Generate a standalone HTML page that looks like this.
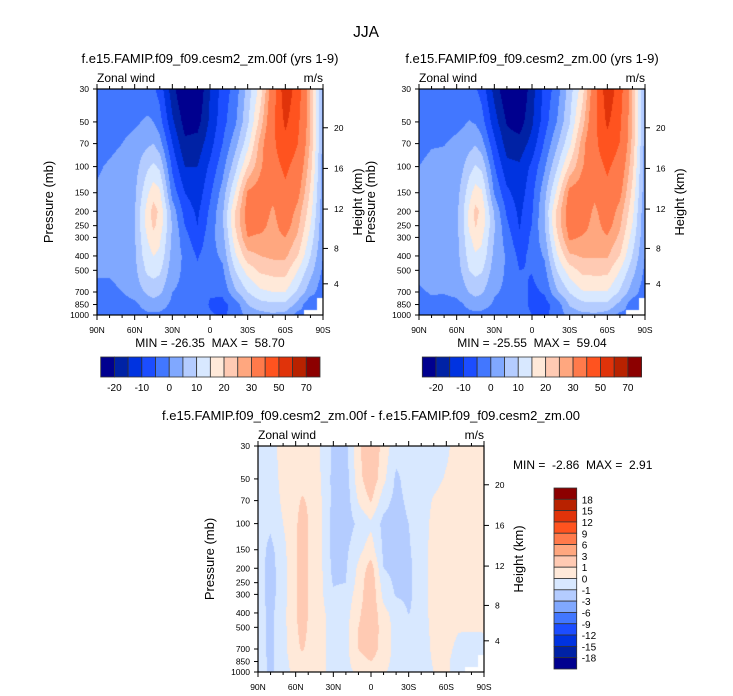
<!DOCTYPE html>
<html><head><meta charset="utf-8">
<style>
html,body{margin:0;padding:0;background:#fff;}
#wrap{position:relative;width:733px;height:696px;overflow:hidden;font-family:"Liberation Sans",sans-serif;}
canvas{position:absolute;}
svg{position:absolute;left:0;top:0;}
</style></head><body>
<div id="wrap">
<canvas id="c1" width="226" height="226" style="left:97px;top:89px"></canvas>
<canvas id="c2" width="226" height="226" style="left:419px;top:89px"></canvas>
<canvas id="c3" width="226" height="226" style="left:258px;top:446px"></canvas>
<svg id="ov" width="733" height="696"></svg>
</div>
<script>
// ---- data ----
const lats=[90,80,70,60,55,50,45,40,30,20,10,0,-10,-20,-30,-40,-50,-60,-70,-80,-90];
const plevs=[30,50,70,100,150,200,250,300,400,500,700,850,1000];
const N=NaN;
const u00f=[
[-3,-3,-2,-0.5,0.5,1,1,1,0.5,0.5,-1,-2,-4],
[-3,-2,-1,0.5,1,1.5,1.5,1.5,1,0.5,-1,-2,-3],
[-3,-2,0,1.5,2,2.5,2.5,2.5,2,1.5,0,-2,-2],
[-4,-1,2,3,4,4.5,4.5,4.5,4,3.5,2,-1,-2],
[-4,0,3,6,9,11,11,10,9,7.5,4,0.5,-1.5],
[-4,1,4,9,14,17,17,15,13,11,6,2,-1],
[-4,0,5,11,18,22,21,18,15,12,7,3,-1],
[-7,-3,2,9,16,19,18,16,14,11,6,2,-1],
[-18,-14,-10,-6,-2,3,4.5,4,3,2,0,-1,-2],
[-26,-22,-19,-15,-10,-7,-5,-3,-1,-1,-1,-1,-2],
[-25,-22,-18,-15,-13,-11,-10,-8.5,-5.5,-4,-2,-1.5,-2.5],
[-15,-14,-12,-9,-6,-4,-3,-2,-2,-3,-4.5,-5.5,-4.5],
[-8,-7,-5,-2,2,4,4,3,1,-1,-4,-6.5,-5.5],
[-3,-1,3,8,15,20,20,18,14,10,4,-3,-4],
[7,9,13,20,31,33,32,30,23,17,10,5,2],
[17,22,27,29,33,34,32,29,25,21,14,8,3],
[35,37,38,36,32,29,28,28,26,22,15,9,4],
[57,52,47,42,38,35,33,30,26,22,15,9,3],
[45,42,40,36,32,28,26,24,20,15,9,3,-2],
[25,25,24,22,19,17,15,13,10,7,2,-4,N],
[3,3,3,2,2,1,1,1,0,-1,-3,N,N]];
const udiff=[
[-0.5,-0.5,-0.5,-0.5,-0.5,-0.5,-0.5,-0.5,-0.5,-0.5,-0.5,-0.5,-0.5],
[-0.4,-0.5,-0.6,-0.8,-1.3,-1.4,-1.4,-1.4,-1.3,-1.3,-1.3,-1.2,-1.2],
[0.4,0.3,0.2,0,-0.3,-0.4,-0.4,-0.4,-0.3,-0.3,-0.3,-0.4,-0.5],
[0.5,0.6,0.7,0.8,0.9,0.9,0.9,0.9,0.9,0.8,0.7,0.5,0.4],
[0.6,0.7,1.1,1.5,1.6,1.6,1.6,1.6,1.5,1.4,1.1,0.7,0.5],
[0.6,0.7,0.9,1.0,1.0,1.0,1.0,1.0,1.0,0.9,0.8,0.6,0.5],
[0.4,0.5,0.5,0.5,0.6,0.6,0.6,0.6,0.6,0.6,0.5,0.4,0.4],
[-0.1,0,0.1,0.2,0.2,0.2,0.2,0.2,0.3,0.3,0.3,0.3,0.3],
[-1.2,-1.3,-1.3,-1.4,-1.4,-1.3,-1.1,-0.8,-0.5,-0.4,-0.4,-0.4,-0.4],
[-1.3,-1.5,-1.6,-1.5,-1.2,-1.1,-1.0,-0.6,-0.4,-0.3,-0.3,-0.3,-0.3],
[0.8,0.6,0.1,-0.8,-0.3,0.2,0.4,0.5,0.8,1.0,1.0,0.6,0.2],
[2.0,1.8,1.1,-0.2,0.5,1.5,1.8,1.8,1.8,1.8,1.6,1.0,0.4],
[0.6,0.3,-0.6,-1.3,-1.2,-1.0,-0.6,-0.3,0.3,0.5,0.5,0.3,0.1],
[-0.6,-1.2,-1.3,-1.4,-1.4,-1.3,-1.2,-1.1,-0.4,-0.3,-0.3,-0.3,-0.3],
[-0.5,-0.6,-0.8,-1.0,-1.1,-1.2,-1.2,-1.2,-1.05,-0.5,-0.4,-0.4,-0.4],
[-0.6,-0.5,-0.5,-0.5,-0.5,-0.5,-0.5,-0.5,-0.5,-0.5,-0.5,-0.5,-0.5],
[-0.4,-0.3,0.1,0.3,0.4,0.4,0.4,0.4,0.4,0.3,0.2,0.1,0.0],
[-0.2,0.1,0.4,0.5,0.5,0.5,0.5,0.5,0.5,0.4,0.3,0.2,0.2],
[0.5,0.4,0.3,0.3,0.3,0.3,0.3,0.3,0.2,0.1,-0.3,-0.5,-0.5],
[1.0,0.5,0.4,0.4,0.4,0.4,0.3,0.3,0.2,0.1,-0.4,-1.0,N],
[0.4,0.4,0.4,0.4,0.4,0.4,0.3,0.3,0.2,0.1,-0.3,N,N]];
// second case = first minus difference
const u00=u00f.map((r,i)=>r.map((v,j)=>v-udiff[i][j]));
const levels1=[-20,-15,-10,-5,0,5,10,15,20,25,30,40,50,60,70];
const levels3=[-18,-15,-12,-9,-6,-3,-1,0,1,3,6,9,12,15,18];
const labels1=["-20","-10","0","10","20","30","50","70"];
const labels3=["18","15","12","9","6","3","1","0","-1","-3","-6","-9","-12","-15","-18"];
const pTicks=[30,50,70,100,150,200,250,300,400,500,700,850,1000];
const kmTicks=[4,8,12,16,20];
const latTicks=[90,60,30,0,-30,-60,-90];
const latTickLabels=["90N","60N","30N","0","30S","60S","90S"];
const palette=["#00008f","#0022a5","#0033e0","#1c4dff","#4277ff","#80a8ff","#b4ccff","#d8e8ff","#ffe9d9","#ffcab3","#ffa77f","#ff7a4b","#ff531f","#e0330a","#b82200","#8c0000"];

// ---- axis functions ----
const W=226,H=226;
const LP=Math.log(1000/30);
function yOfP(p){return Math.log(p/30)/LP*H;}
function pOfY(y){return 30*Math.exp(y/H*LP);}
function xOfLat(l){return (90-l)/180*W;}
function latOfX(x){return 90-x/W*180;}
function pOfKm(z){const m=z*1000;return m<=11000?1013.25*Math.pow(1-2.25577e-5*m,5.25588):226.32*Math.exp(-(m-11000)/6341.6);}

function hex(c){return [parseInt(c.substr(1,2),16),parseInt(c.substr(3,2),16),parseInt(c.substr(5,2),16)];}
const palRGB=palette.map(hex);
function bracket(arr,v,desc){
  for(let i=0;i<arr.length-1;i++){
    const a=arr[i],b=arr[i+1];
    if(desc? (v<=a&&v>=b):(v>=a&&v<=b)) return i;
  }
  return arr.length-2;
}
function sample(field,lat,p){
  const i=bracket(lats,lat,true);
  const lp=Math.log(p);
  const lgs=plevs.map(Math.log);
  const j=bracket(lgs,lp,false);
  const tx=(lats[i]-lat)/(lats[i]-lats[i+1]);
  const ty=(lp-lgs[j])/(lgs[j+1]-lgs[j]);
  const ni=tx<0.5?i:i+1, nj=ty<0.5?j:j+1;
  if(isNaN(field[ni][nj])) return NaN;
  const c=[[field[i][j],(1-tx)*(1-ty)],[field[i+1][j],tx*(1-ty)],[field[i][j+1],(1-tx)*ty],[field[i+1][j+1],tx*ty]];
  let s=0,w=0;c.forEach(([v,wt])=>{if(!isNaN(v)){s+=v*wt;w+=wt;}});
  return s/w;
}
function levelIndex(v,lev){let k=0;for(const L of lev){if(v>=L)k++;}return k;}
function drawField(id,field,lev){
  const cv=document.getElementById(id),ctx=cv.getContext('2d');
  const img=ctx.createImageData(W,H);
  for(let y=0;y<H;y++){const p=pOfY(y+0.5);
    for(let x=0;x<W;x++){
      const v=sample(field,latOfX(x+0.5),p);
      const o=(y*W+x)*4;
      if(isNaN(v)){img.data[o]=255;img.data[o+1]=255;img.data[o+2]=255;}
      else{const c=palRGB[levelIndex(v,lev)];img.data[o]=c[0];img.data[o+1]=c[1];img.data[o+2]=c[2];}
      img.data[o+3]=255;
    }}
  ctx.putImageData(img,0,0);
}
drawField('c1',u00f,levels1);
drawField('c2',u00,levels1);
drawField('c3',udiff,levels3);

// ---- overlay ----
const NS="http://www.w3.org/2000/svg";
const svg=document.getElementById('ov');
function el(tag,attrs,parent){const e=document.createElementNS(NS,tag);for(const k in attrs)e.setAttribute(k,attrs[k]);(parent||svg).appendChild(e);return e;}
function txt(s,x,y,size,anchor,parent,extra){const t=el('text',Object.assign({x:x,y:y,'font-size':size,'text-anchor':anchor||'start','font-family':'Liberation Sans, sans-serif',fill:'#000'},extra||{}),parent);t.textContent=s;return t;}

const tTitle=txt("JJA",366,37,15.5,'middle');



function panel(ox,oy,name,title,minmax,mmx,mmy,mmAnchor){
  const g=el('g',{});
  
  
  const t=txt(title,ox+W/2,oy-26,13,'middle',g);
  
  
  const zw=txt("Zonal wind",ox,oy-7,12,'start',g);
  
  
  const un=txt("m/s",ox+W,oy-7,12,'end',g);
  
  
  const fr=el('rect',{x:ox,y:oy,width:W,height:H,fill:'none',stroke:'#000','stroke-width':1.2},g);
  
  
  pTicks.forEach(p=>{const y=oy+yOfP(p);
    el('line',{x1:ox-4,x2:ox,y1:y,y2:y,stroke:'#000','stroke-width':1},g);
    const l=txt(String(p),ox-8,y+3,8.5,'end',g);
    
    
  });
  kmTicks.forEach(z=>{const y=oy+yOfP(pOfKm(z));
    el('line',{x1:ox+W,x2:ox+W+5,y1:y,y2:y,stroke:'#000','stroke-width':1},g);
    const l=txt(String(z),ox+W+11,y+3,8.5,'start',g);
    
    
  });
  for(let l=90;l>=-90;l-=10){const x=ox+xOfLat(l);const major=(l%30===0);const len=major?5:3;
    el('line',{x1:x,x2:x,y1:oy,y2:oy-len,stroke:'#000','stroke-width':1},g);
    el('line',{x1:x,x2:x,y1:oy+H,y2:oy+H+len,stroke:'#000','stroke-width':1},g);}
  latTicks.forEach((l,i)=>{const lb=txt(latTickLabels[i],ox+xOfLat(l),oy+H+18,8.5,'middle',g);
    
    });
  const yl=txt("Pressure (mb)",0,0,13,'middle',g,{transform:`translate(${ox-44},${oy+H/2}) rotate(-90)`});
  
  
  const hl=txt("Height (km)",0,0,13,'middle',g,{transform:`translate(${ox+W+39},${oy+H/2}) rotate(-90)`});
  
  
  const mm=txt(minmax,mmx,mmy,12,mmAnchor,g);
  
  
  return g;
}
panel(97,89,'panel-00f',"f.e15.FAMIP.f09_f09.cesm2_zm.00f (yrs 1-9)","MIN = -26.35\u00a0 MAX = \u00a058.70",210,347,'middle');
panel(419,89,'panel-00',"f.e15.FAMIP.f09_f09.cesm2_zm.00 (yrs 1-9)","MIN = -25.55\u00a0 MAX = \u00a059.04",532,347,'middle');
panel(258,446,'panel-diff',"f.e15.FAMIP.f09_f09.cesm2_zm.00f - f.e15.FAMIP.f09_f09.cesm2_zm.00","MIN = \u00a0-2.86\u00a0 MAX = \u00a02.91",513,469,'start');

function hbar(x0,y0,w,h,name){
  const g=el('g',{});
  
  
  const bw=w/palette.length;
  palette.forEach((c,i)=>{const r=el('rect',{x:x0+i*bw,y:y0,width:bw,height:h,fill:c,stroke:'#333','stroke-width':0.8},g);
    
    });
  labels1.forEach((s,k)=>{const x=x0+(1+2*k)*bw;const t=txt(s,x,y0+h+14,10,'middle',g);
    
    });
}
hbar(100.7,357,219.3,20,'colorbar-00f');
hbar(422.3,357,219.3,20,'colorbar-00');
(function(){
  const x0=554,y0=488,w=22.7,h=181;
  const g=el('g',{});
  
  
  const bh=h/palette.length;
  palette.slice().reverse().forEach((c,i)=>{const r=el('rect',{x:x0,y:y0+i*bh,width:w,height:bh,fill:c,stroke:'#333','stroke-width':0.8},g);
    
    });
  labels3.forEach((s,k)=>{const t=txt(s,x0+w+5,y0+(k+1)*bh+4,10,'start',g);
    
    });
})();
</script>
</body></html>
